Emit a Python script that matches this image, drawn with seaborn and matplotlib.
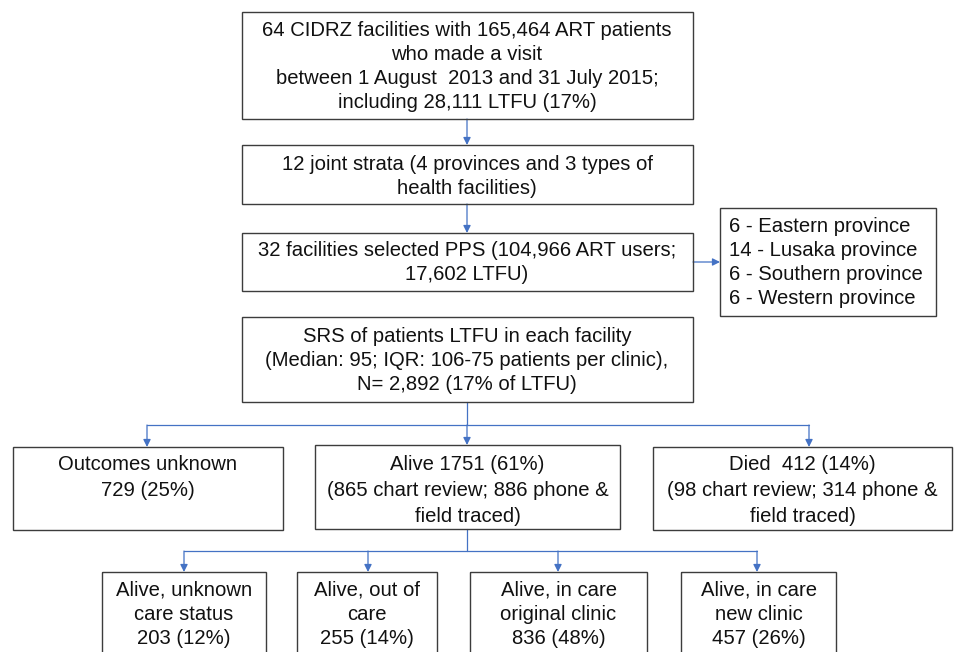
import matplotlib
matplotlib.use("Agg")
import matplotlib.pyplot as plt
import matplotlib.patches as mpatches
import seaborn as sns
import pandas as pd

# ---------------- data (text content of the flowchart) ----------------
source_lines = ["64 CIDRZ facilities with 165,464 ART patients",
                "who made a visit",
                "between 1 August  2013 and 31 July 2015;",
                "including 28,111 LTFU (17%)"]
strata_lines = ["12 joint strata (4 provinces and 3 types of",
                "health facilities)"]
pps_lines = ["32 facilities selected PPS (104,966 ART users;",
             "17,602 LTFU)"]
province_counts = ["6", "14", "6", "6"]
province_names = ["Eastern province", "Lusaka province",
                  "Southern province", "Western province"]
srs_lines = ["SRS of patients LTFU in each facility",
             "(Median: 95; IQR: 106-75 patients per clinic),",
             "N= 2,892 (17% of LTFU)"]
outcome_lines = [["Outcomes unknown", "729 (25%)"],
                 ["Alive 1751 (61%)", "(865 chart review; 886 phone &", "field traced)"],
                 ["Died  412 (14%)", "(98 chart review; 314 phone &", "field traced)"]]
care_lines = [["Alive, unknown", "care status", "203 (12%)"],
              ["Alive, out of", "care", "255 (14%)"],
              ["Alive, in care", "original clinic", "836 (48%)"],
              ["Alive, in care", "new clinic", "457 (26%)"]]

# ---------------- layout (pixel coordinates, y downwards) ----------------
W, H = 955, 652
BOX_EDGE = "#3c3c3c"
ARROW = "#4472C4"
FS = 14.6
FONT = "Liberation Sans"

sns.set_theme(style="white")
plt.rcParams["font.family"] = [FONT, "DejaVu Sans"]

fig = plt.figure(figsize=(W / 100, H / 100), dpi=100)
ax = fig.add_axes([0, 0, 1, 1])
ax.set_xlim(0, W)
ax.set_ylim(H, 0)
ax.axis("off")


def box(x0, y0, x1, y1):
    ax.add_patch(mpatches.Rectangle((x0, y0), x1 - x0, y1 - y0, fill=False,
                                    edgecolor=BOX_EDGE, lw=1.0, zorder=3))


def lines_text(xc, ys, lines, ha="center"):
    for y, t in zip(ys, lines):
        ax.text(xc, y, t, ha=ha, va="center", fontsize=FS, color="#111111",
                fontfamily=[FONT, "DejaVu Sans"], zorder=4)


def arrow(x0, y0, x1, y1):
    ax.annotate("", xy=(x1, y1), xytext=(x0, y0),
                arrowprops=dict(arrowstyle="-|>", color=ARROW, lw=0.9,
                                mutation_scale=11, shrinkA=0, shrinkB=0),
                zorder=2)


def seg(xs, ys):
    df = pd.DataFrame({"x": xs, "y": ys})
    sns.lineplot(data=df, x="x", y="y", ax=ax, color=ARROW, lw=0.9,
                 sort=False, estimator=None, legend=False, zorder=2)


CX = 467
# top box
box(242, 12, 693, 119)
lines_text(CX, [31, 55, 79, 102], source_lines)
arrow(CX, 119, CX, 145)
# strata
box(242, 145, 693, 204)
lines_text(CX, [164, 188], strata_lines)
arrow(CX, 204, CX, 233)
# PPS
box(242, 233, 693, 291)
lines_text(CX, [251, 275], pps_lines)
arrow(693, 262, 720, 262)
# provinces
box(720, 208, 936, 316)
prov = [f"{c} - {n}" for c, n in zip(province_counts, province_names)]
lines_text(729, [226, 250, 275, 299], prov, ha="left")
# SRS
box(242, 317, 693, 402)
lines_text(CX, [337, 361, 385], srs_lines)

# first branching
seg([CX, CX], [402, 425])
seg([147, 809], [425, 425])
row2 = [(13, 283, 447, 530, 147), (315, 620, 445, 529, 467), (653, 952, 447, 530, 809)]
for (x0, x1, y0, y1, ax_x), lines in zip(row2, outcome_lines):
    arrow(ax_x, 425, ax_x, y0)
    box(x0, y0, x1, y1)
    lines_text((x0 + x1) / 2, [465, 491, 516][:len(lines)], lines)

# second branching
seg([CX, CX], [529, 551])
seg([184, 757], [551, 551])
row3 = [(102, 266, 184), (297, 437, 368), (470, 647, 558), (681, 836, 757)]
for (x0, x1, ax_x), lines in zip(row3, care_lines):
    arrow(ax_x, 551, ax_x, 572)
    box(x0, 572, x1, 670)
    lines_text((x0 + x1) / 2, [590, 614, 638], lines)

fig.savefig("out.png", dpi=100, facecolor="white")
